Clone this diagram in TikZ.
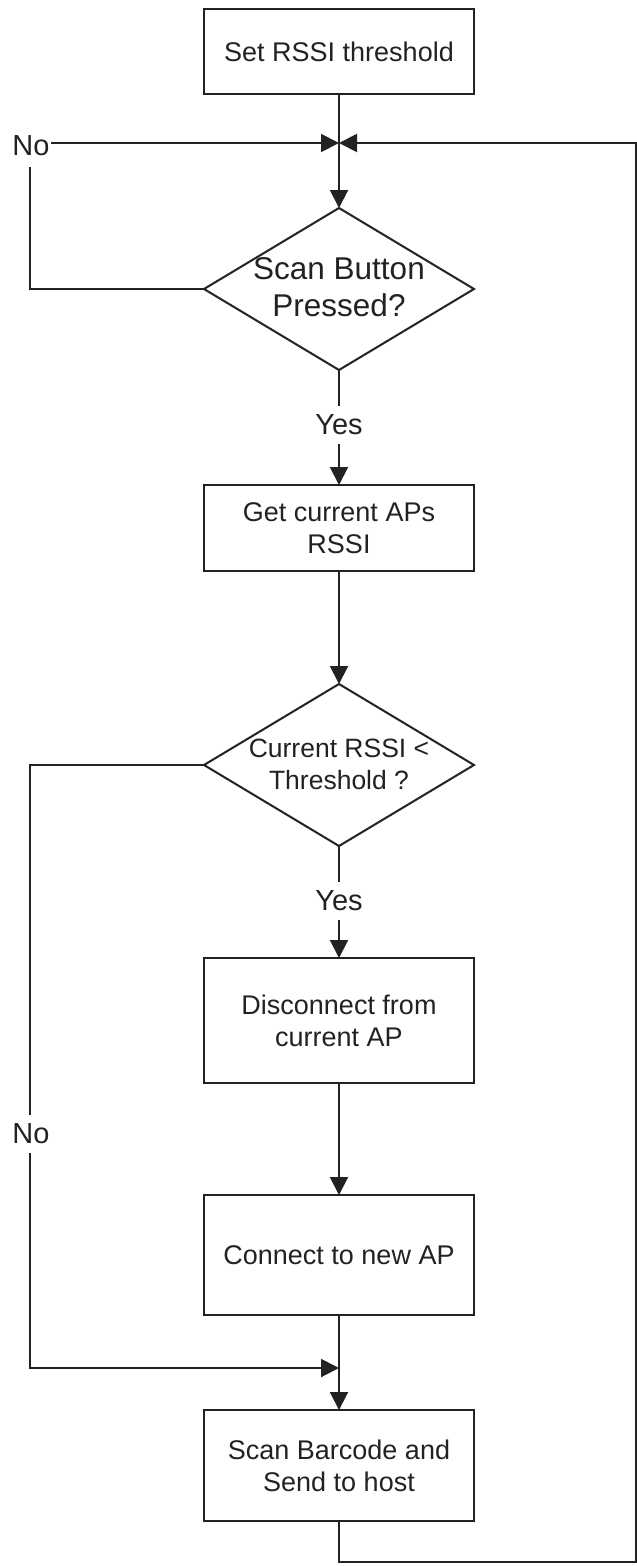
\documentclass[tikz,border=0pt]{standalone}
\usepackage{fontspec}
\setmainfont{Liberation Sans}
\usetikzlibrary{arrows.meta,shapes.geometric}
\definecolor{ink}{HTML}{222222}
\begin{document}
\begin{tikzpicture}[x=1pt,y=-1pt,
  line width=2pt, color=ink,
  stepbox/.style={draw=ink, rectangle, line width=2pt, minimum width=270pt, inner sep=0pt, outer sep=0pt,
     align=center, text=ink, font=\fontsize{27}{32}\selectfont},
  decision/.style={draw=ink, diamond, line width=2pt, minimum width=270pt, minimum height=162pt, inner sep=0pt, outer sep=0pt},
  dtext/.style={align=center, text=ink, inner sep=0pt},
  lbl/.style={fill=white, text=ink, font=\fontsize{29}{32}\selectfont, inner xsep=1pt},
  arr/.style={-{Triangle[length=18pt,width=18pt]}}
]
\useasboundingbox (0,0) rectangle (637,1566);

% nodes
\node[stepbox, minimum height=85pt] (b1) at (339,51.5) {Set RSSI threshold};
\node[decision] (d1) at (339,289) {};
\node[dtext, font=\fontsize{31.5}{37}\selectfont] (d1t) at (339,287) {Scan Button\\Pressed?};
\node[stepbox, minimum height=86pt] (b2) at (339,528) {Get current APs\\RSSI};
\node[decision] (d2) at (339,765) {};
\node[dtext, font=\fontsize{26.5}{32}\selectfont] (d2t) at (339,764) {Current RSSI <\\Threshold ?};
\node[stepbox, minimum height=125pt] (b3) at (339,1020.5) {Disconnect from\\current AP};
\node[stepbox, minimum height=120pt] (b4) at (339,1255) {Connect to new AP};
\node[stepbox, minimum height=111pt] (b5) at (339,1465.5) {Scan Barcode and\\Send to host};

% junctions and corners
\coordinate (j1) at (339,143);
\coordinate (j2) at (339,1368);
\coordinate (cnw) at (30,143);
\coordinate (csw) at (30,1368);
\coordinate (cse) at (636,1562);

% connectors
\draw (b1.south) -- (j1);
\draw[arr] (j1) -- (d1.north);
\draw[arr] (d1.west) -| (cnw) -- (j1);
\draw[arr] (b5.south) |- (cse) |- (j1);
\draw[arr] (d1.south) -- (b2.north);
\draw[arr] (b2.south) -- (d2.north);
\draw[arr] (d2.south) -- (b3.north);
\draw[arr] (b3.south) -- (b4.north);
\draw (b4.south) -- (j2);
\draw[arr] (j2) -- (b5.north);
\draw[arr] (d2.west) -| (csw) -- (j2);

% labels
\node[lbl, inner ysep=11pt] (no1) at (31,146) {No};
\node[lbl, inner ysep=9pt] (yes1) at (339,425) {Yes};
\node[lbl, inner ysep=9pt] (yes2) at (339,901) {Yes};
\node[lbl, inner ysep=9pt] (no2) at (31,1134) {No};
\end{tikzpicture}
\end{document}
